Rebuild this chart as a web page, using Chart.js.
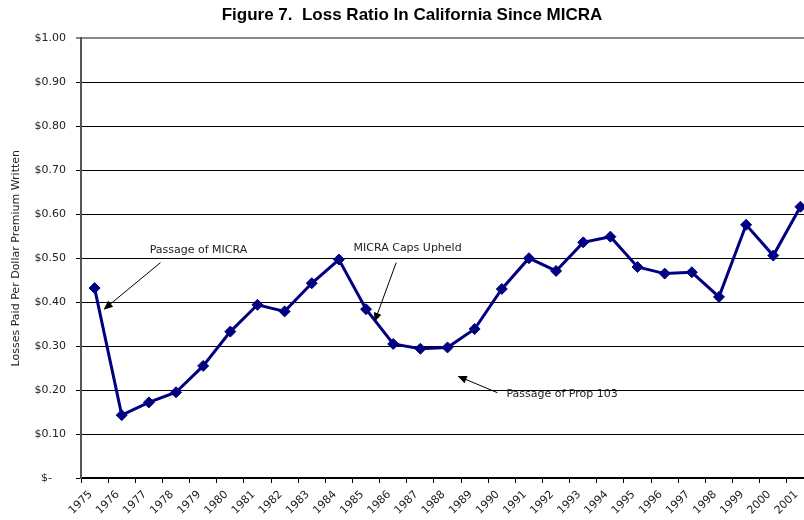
<!DOCTYPE html>
<html>
<head>
<meta charset="utf-8">
<script src="https://cdn.jsdelivr.net/npm/chart.js@4.4.1/dist/chart.umd.min.js"></script>
<style>
  html, body { margin: 0; padding: 0; background: #fff; overflow: hidden; }
  #wrap { width: 804px; height: 520px; overflow: hidden; }
  canvas { display: block; }
</style>
</head>
<body>
<div id="wrap"><canvas id="lossChart" width="836" height="520" style="width:836px;height:520px"></canvas></div>
<script>
const years = ['1975', '1976', '1977', '1978', '1979', '1980', '1981', '1982', '1983', '1984',
    '1985', '1986', '1987', '1988', '1989', '1990', '1991', '1992', '1993', '1994',
    '1995', '1996', '1997', '1998', '1999', '2000', '2001'];
const lossRatio = [0.432, 0.143, 0.172, 0.195, 0.255, 0.333, 0.394, 0.379, 0.443, 0.497,
    0.384, 0.305, 0.294, 0.297, 0.339, 0.430, 0.500, 0.471, 0.536, 0.549,
    0.480, 0.465, 0.468, 0.412, 0.576, 0.506, 0.617];

// callouts: text anchor and arrow, in (category index, value) units
const callouts = [
    { text: 'Passage of MICRA', tx: 2.03, ty: 0.519, from: [2.43, 0.490], to: [0.33, 0.383] },
    { text: 'MICRA Caps Upheld', tx: 9.54, ty: 0.524, from: [11.11, 0.490], to: [10.31, 0.355] },
    { text: 'Passage of Prop 103', tx: 15.17, ty: 0.191, from: [14.84, 0.194], to: [13.37, 0.232] }
];

const calloutPlugin = {
    id: 'callouts',
    afterDatasetsDraw(chart) {
        const ctx = chart.ctx;
        const xs = chart.scales.x, ys = chart.scales.y;
        const px = i => xs.getPixelForValue(0) + i * (xs.getPixelForValue(1) - xs.getPixelForValue(0));
        ctx.save();
        callouts.forEach(c => {
            ctx.font = '11px "DejaVu Sans"';
            ctx.fillStyle = '#222';
            ctx.textAlign = 'left';
            ctx.textBaseline = 'middle';
            ctx.fillText(c.text, px(c.tx), ys.getPixelForValue(c.ty));

            const x1 = px(c.from[0]), y1 = ys.getPixelForValue(c.from[1]);
            const x2 = px(c.to[0]), y2 = ys.getPixelForValue(c.to[1]);
            const a = Math.atan2(y2 - y1, x2 - x1);
            ctx.strokeStyle = '#000';
            ctx.lineWidth = 1;
            ctx.beginPath();
            ctx.moveTo(x1, y1);
            ctx.lineTo(x2 - 6 * Math.cos(a), y2 - 6 * Math.sin(a));
            ctx.stroke();
            // arrow head
            ctx.fillStyle = '#000';
            ctx.beginPath();
            ctx.moveTo(x2, y2);
            ctx.lineTo(x2 - 10 * Math.cos(a - 0.4), y2 - 10 * Math.sin(a - 0.4));
            ctx.lineTo(x2 - 10 * Math.cos(a + 0.4), y2 - 10 * Math.sin(a + 0.4));
            ctx.closePath();
            ctx.fill();
        });
        ctx.restore();
    }
};

Chart.defaults.font.family = '"DejaVu Sans", Verdana, sans-serif';
Chart.defaults.font.size = 11;
Chart.defaults.color = '#222';

new Chart(document.getElementById('lossChart').getContext('2d'), {
    type: 'line',
    data: {
        labels: years,
        datasets: [{
            label: 'Loss Ratio',
            data: lossRatio,
            borderColor: '#000080',
            backgroundColor: '#000080',
            borderWidth: 3,
            pointStyle: 'rectRot',
            pointRadius: 5.5,
            pointBorderWidth: 1,
            tension: 0
        }]
    },
    options: {
        responsive: false,
        animation: false,
        layout: { padding: { left: 10, right: 22, top: 0, bottom: 0 } },
        plugins: {
            legend: { display: false },
            tooltip: { enabled: false },
            title: {
                display: true,
                text: 'Figure 7.  Loss Ratio In California Since MICRA',
                color: '#000',
                font: { family: '"Liberation Sans", Arial, sans-serif', size: 17, weight: 'bold' },
                padding: { top: 5, bottom: 13 }
            }
        },
        scales: {
            x: {
                offset: true,
                grid: { offset: true, drawOnChartArea: false, drawTicks: true, tickLength: 5, color: '#000' },
                border: { display: true, color: '#000', width: 2 },
                ticks: { autoSkip: false, minRotation: 45, maxRotation: 45, padding: 5, labelOffset: -4, color: '#222' },
                afterFit(scale) { scale.height = 42; }
            },
            y: {
                min: 0,
                max: 1,
                ticks: {
                    stepSize: 0.1,
                    padding: 10,
                    color: '#222',
                    callback: v => Math.abs(v) < 1e-9 ? '$-    ' : '$' + v.toFixed(2)
                },
                grid: {
                    color: c => c.tick && Math.abs(c.tick.value - 1) < 1e-9 ? '#888' : '#000',
                    lineWidth: c => c.tick && Math.abs(c.tick.value - 1) < 1e-9 ? 2 : 1,
                    tickLength: 5
                },
                border: { display: true, color: '#555', width: 2 },
                title: {
                    display: true,
                    text: 'Losses Paid Per Dollar Premium Written',
                    color: '#222',
                    font: { size: 11 },
                    padding: { top: 0, bottom: 0 }
                },
                afterFit(scale) { scale.width = 71; }
            }
        }
    },
    plugins: [calloutPlugin]
});
</script>
</body>
</html>
